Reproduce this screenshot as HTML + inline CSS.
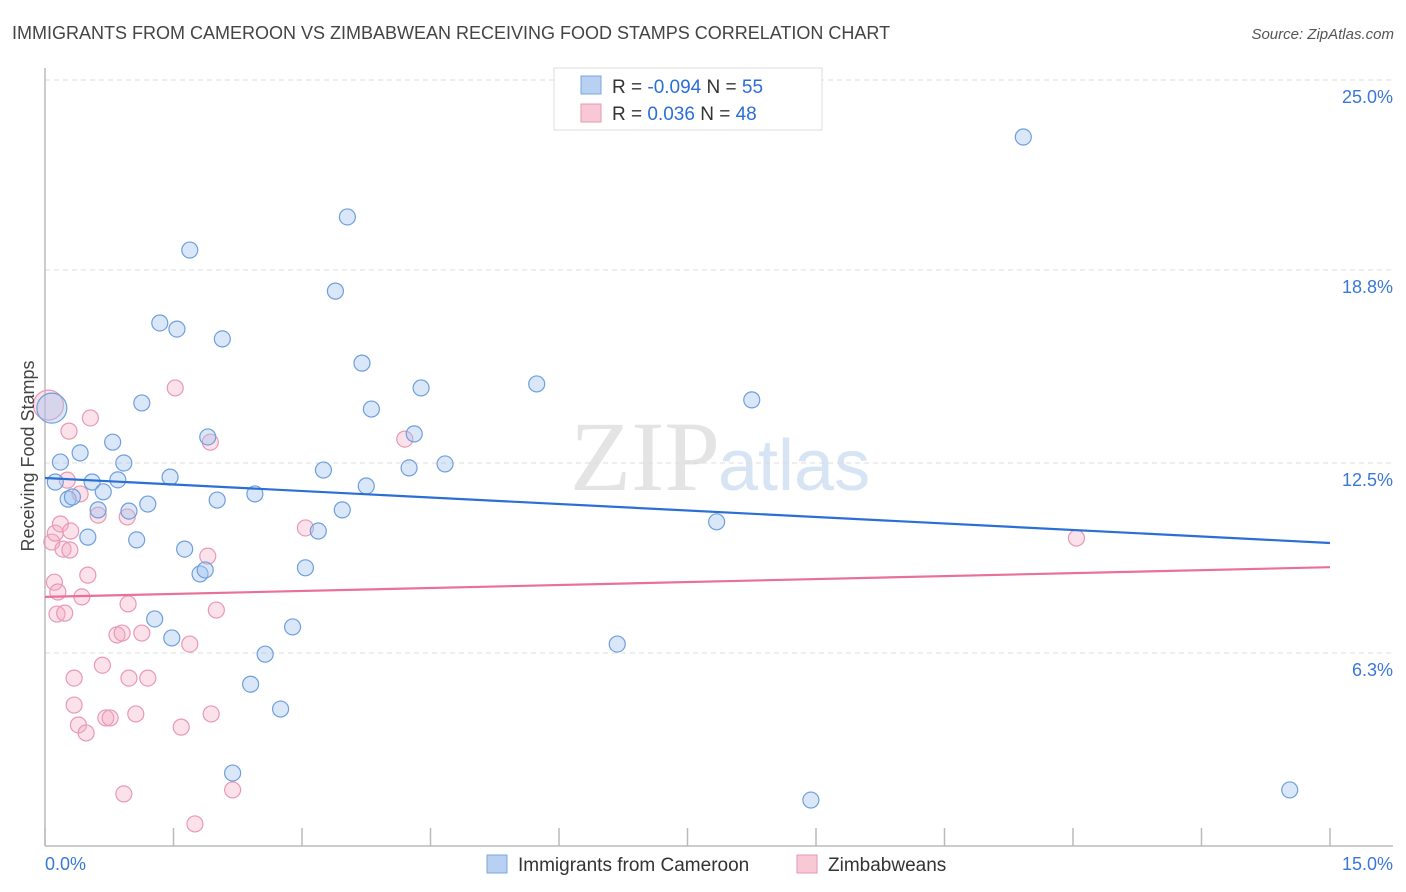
<!DOCTYPE html>
<html><head><meta charset="utf-8">
<style>
body{margin:0;background:#fff;font-family:"Liberation Sans",sans-serif;}
svg{display:block}
</style></head>
<body>
<svg id="chart" width="1406" height="892" xmlns="http://www.w3.org/2000/svg">
<text x="12" y="39" font-size="18" fill="#444">IMMIGRANTS FROM CAMEROON VS ZIMBABWEAN RECEIVING FOOD STAMPS CORRELATION CHART</text>
<text x="1394" y="39" font-size="15" fill="#555" font-style="italic" text-anchor="end">Source: ZipAtlas.com</text>
<text x="720" y="490" font-size="100" fill="#e4e4e4" text-anchor="end" font-family="Liberation Serif,serif">ZIP</text>
<text x="718" y="490" font-size="72" fill="#d6e4f4">atlas</text>
<g id="grid"></g>
<g id="axes"></g>
<g id="marks"></g>
<text transform="translate(34,456) rotate(-90)" font-size="18" fill="#444" text-anchor="middle">Receiving Food Stamps</text>
<g>
<rect x="554" y="68" width="268" height="62" fill="#fff" stroke="#ddd"/>
<rect x="581" y="76" width="20" height="18" fill="#b8d0f2" stroke="#7aa6e0"/>
<text x="612" y="93" font-size="19" fill="#333">R = <tspan fill="#2a6fd6">-0.094</tspan>   N = <tspan fill="#2a6fd6">55</tspan></text>
<rect x="581" y="104" width="20" height="18" fill="#f8c8d6" stroke="#e898b2"/>
<text x="612" y="120" font-size="19" fill="#333">R =   <tspan fill="#2a6fd6">0.036</tspan>   N = <tspan fill="#2a6fd6">48</tspan></text>
</g>
<g>
<rect x="487" y="855" width="20" height="18" fill="#b8d0f2" stroke="#7aa6e0"/>
<text x="518" y="871" font-size="19" fill="#333">Immigrants from Cameroon</text>
<rect x="797" y="855" width="20" height="18" fill="#f8c8d6" stroke="#e898b2"/>
<text x="828" y="871" font-size="19" fill="#333">Zimbabweans</text>
</g>
</svg>
<script>
const blueX=[0.08,0.12,0.18,0.27,0.32,0.41,0.50,0.55,0.62,0.68,0.79,0.85,0.92,0.98,1.07,1.13,1.20,1.28,1.34,1.46,1.48,1.54,1.63,1.69,1.81,1.87,1.90,2.01,2.07,2.19,2.40,2.45,2.57,2.75,2.89,3.04,3.19,3.25,3.39,3.47,3.53,3.70,3.75,3.81,4.25,4.31,4.39,4.67,5.74,6.68,7.84,8.25,8.94,11.42,14.53];
const blueY=[14.29,11.88,12.53,11.32,11.39,12.83,10.08,11.88,10.97,11.56,13.18,11.95,12.50,10.93,9.99,14.46,11.16,7.41,17.07,12.04,6.79,16.87,9.69,19.45,8.88,9.01,13.35,11.29,16.55,2.38,5.28,11.49,6.26,4.47,7.15,9.08,10.28,12.27,18.11,10.97,20.53,15.76,11.75,14.26,12.34,13.45,14.95,12.47,15.08,6.59,10.58,14.56,1.50,23.14,1.83];
const pinkX=[0.04,0.08,0.12,0.11,0.14,0.15,0.18,0.21,0.23,0.28,0.29,0.30,0.26,0.34,0.34,0.39,0.41,0.43,0.48,0.50,0.53,0.62,0.67,0.71,0.76,0.84,0.90,0.92,0.96,0.97,0.98,1.06,1.13,1.20,1.52,1.59,1.69,1.75,1.90,1.93,1.94,2.00,2.19,3.04,4.20,12.04];
const pinkY=[14.39,9.92,10.21,8.61,7.57,8.29,10.51,9.69,7.60,13.54,9.66,10.28,11.94,5.48,4.60,3.95,11.49,8.13,3.69,8.84,13.97,10.80,5.90,4.18,4.18,6.89,6.95,1.70,10.74,7.90,5.48,4.31,6.95,5.48,14.95,3.88,6.59,0.72,9.46,13.18,4.31,7.70,1.83,10.38,13.28,10.05];
const blueTrend=[12.01,9.89];
const pinkTrend=[8.13,9.10];
const yTicks=[25.0,18.8,12.5,6.3];
const yTickLabels=["25.0%","18.8%","12.5%","6.3%"];
const xTicks=[0,1.5,3,4.5,6,7.5,9,10.5,12,13.5,15];
const NS="http://www.w3.org/2000/svg";
const X0=45,X1=1330,Y0=846,Ytop=80;
const sx=v=>X0+(v/15)*(X1-X0);
const sy=v=>Y0-(v/25)*(Y0-Ytop);
function mk(tag,attrs,parent){const e=document.createElementNS(NS,tag);for(const k in attrs)e.setAttribute(k,attrs[k]);parent.appendChild(e);return e;}
const grid=document.getElementById('grid'),axes=document.getElementById('axes'),marks=document.getElementById('marks');
yTicks.forEach((t,i)=>{
 const l=mk('line',{x1:X0,x2:1393,y1:sy(t),y2:sy(t),stroke:'#ddd','stroke-dasharray':'5,4'},grid);
 
 
 const tx=mk('text',{x:1393,y:sy(t)+23,'font-size':18,fill:'#3a78d8','text-anchor':'end'},axes);
 tx.textContent=yTickLabels[i];
 
 
});
const ya=mk('line',{x1:X0,x2:X0,y1:68,y2:Y0,stroke:'#bbb','stroke-width':1.5},axes);


const xa=mk('line',{x1:X0,x2:1393,y1:Y0,y2:Y0,stroke:'#bbb','stroke-width':1.5},axes);


xTicks.forEach(t=>{
 const l=mk('line',{x1:sx(t),x2:sx(t),y1:Y0,y2:Y0-18,stroke:'#bbb','stroke-width':1.5},axes);
 
 
});
const xl0=mk('text',{x:45,y:870,'font-size':18,fill:'#3a78d8'},axes);xl0.textContent='0.0%';


const xl1=mk('text',{x:1393,y:870,'font-size':18,fill:'#3a78d8','text-anchor':'end'},axes);xl1.textContent='15.0%';


function pts(xs,ys,fill,stroke,name){
 xs.forEach((x,i)=>{
  const r=(i===0)?15:8;
  const c=mk('circle',{cx:sx(x),cy:sy(ys[i]),r:r,fill:fill,stroke:stroke,'stroke-width':1.2},marks);
  
  
 });
}
pts(pinkX,pinkY,'rgba(244,170,196,0.35)','#e899b4','point-zimbabwe');
pts(blueX,blueY,'rgba(160,196,240,0.4)','#6e9fdc','point-cameroon');
const bt=mk('line',{x1:sx(0),y1:sy(blueTrend[0]),x2:sx(15),y2:sy(blueTrend[1]),stroke:'#2a6fd6','stroke-width':2.2},marks);


const pt=mk('line',{x1:sx(0),y1:sy(pinkTrend[0]),x2:sx(15),y2:sy(pinkTrend[1]),stroke:'#e8709a','stroke-width':2.2},marks);


</script>
</body></html>
